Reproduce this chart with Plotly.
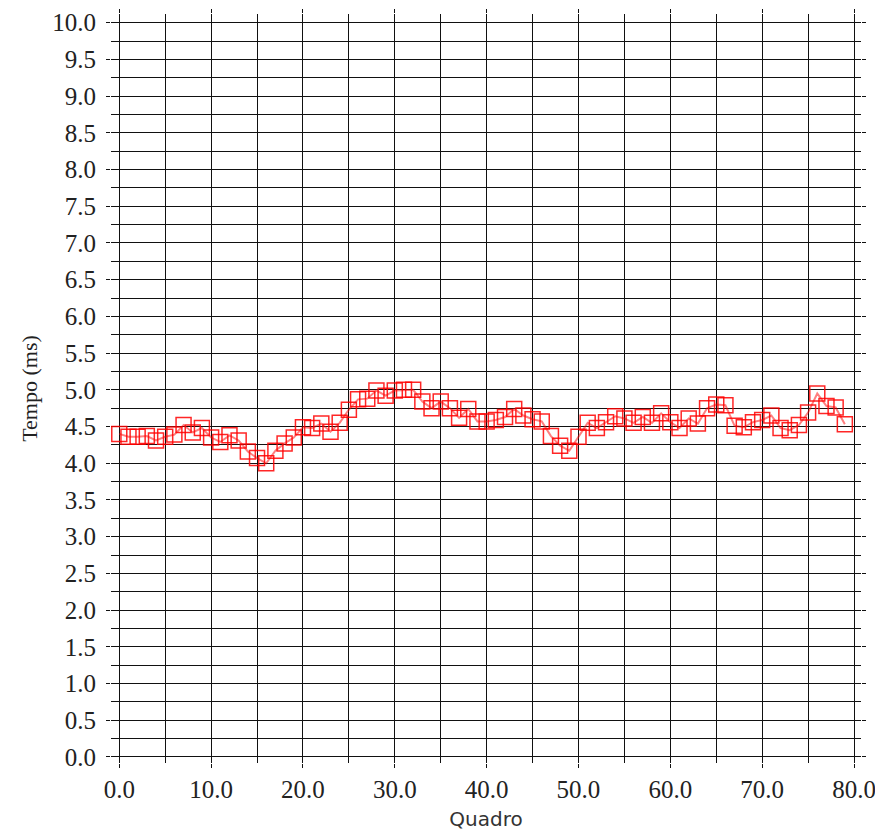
import plotly.graph_objects as go

frames = list(range(80))
tempo_ms = [
    4.40, 4.36, 4.36, 4.37, 4.31, 4.36, 4.39, 4.52, 4.42, 4.48,
    4.35, 4.29, 4.38, 4.31, 4.16, 4.07, 4.00, 4.17, 4.27, 4.35,
    4.49, 4.48, 4.54, 4.43, 4.55, 4.73, 4.87, 4.88, 4.99, 4.92,
    4.99, 5.00, 5.00, 4.84, 4.75, 4.84, 4.75, 4.62, 4.74, 4.57,
    4.57, 4.59, 4.63, 4.74, 4.65, 4.60, 4.57, 4.37, 4.24, 4.17,
    4.36, 4.55, 4.48, 4.56, 4.64, 4.61, 4.55, 4.63, 4.55, 4.68,
    4.56, 4.48, 4.61, 4.54, 4.75, 4.80, 4.79, 4.51, 4.49, 4.56,
    4.59, 4.65, 4.48, 4.45, 4.52, 4.69, 4.95, 4.78, 4.76, 4.53,
]

x_tickvals = [0, 10, 20, 30, 40, 50, 60, 70, 80]
x_ticktext = ["0.0", "10.0", "20.0", "30.0", "40.0", "50.0", "60.0", "70.0", "80.0"]
y_tickvals = [i * 0.5 for i in range(21)]
y_ticktext = [f"{v:.1f}" for v in y_tickvals]

fig = go.Figure()
fig.add_trace(go.Scatter(
    x=frames, y=tempo_ms, mode="lines+markers",
    line=dict(color="rgba(255,0,0,0.5)", width=2),
    marker=dict(symbol="square-open", size=15, color="rgba(255,0,0,0.85)",
                line=dict(width=1.5)),
    showlegend=False,
))

grid_col = "#111111"
tick_font = dict(family="Liberation Serif", size=25, color="#222")

fig.update_layout(
    width=875, height=823,
    margin=dict(l=103, r=22, t=6, b=68, autoexpand=False),
    plot_bgcolor="white", paper_bgcolor="white",
    xaxis=dict(
        range=[-0.90, 80.76], tickmode="array", tickvals=x_tickvals, ticktext=x_ticktext,
        showgrid=True, gridcolor=grid_col, gridwidth=1,
        minor=dict(dtick=5, tick0=0, showgrid=True, gridcolor=grid_col, gridwidth=1, ticks=""),
        ticks="outside", ticklen=4, tickcolor=grid_col, tickwidth=1, mirror="ticks",
        zeroline=False, showline=False, automargin=False,
        tickfont=tick_font, ticklabelstandoff=0,
        title=dict(text="Quadro", font=dict(family="DejaVu Sans", size=20, color="#333"), standoff=9),
    ),
    yaxis=dict(
        range=[-0.082, 10.118], tickmode="array", tickvals=y_tickvals, ticktext=y_ticktext,
        showgrid=True, gridcolor=grid_col, gridwidth=1,
        minor=dict(dtick=0.25, tick0=0, showgrid=True, gridcolor=grid_col, gridwidth=1, ticks=""),
        ticks="outside", ticklen=4, tickcolor=grid_col, tickwidth=1, mirror="ticks",
        zeroline=False, showline=False, automargin=False,
        tickfont=tick_font, ticklabelstandoff=5,
        title=dict(text="Tempo (ms)", font=dict(family="Liberation Serif", size=22, color="#222"), standoff=8),
    ),
)

fig.write_html("out.html")
